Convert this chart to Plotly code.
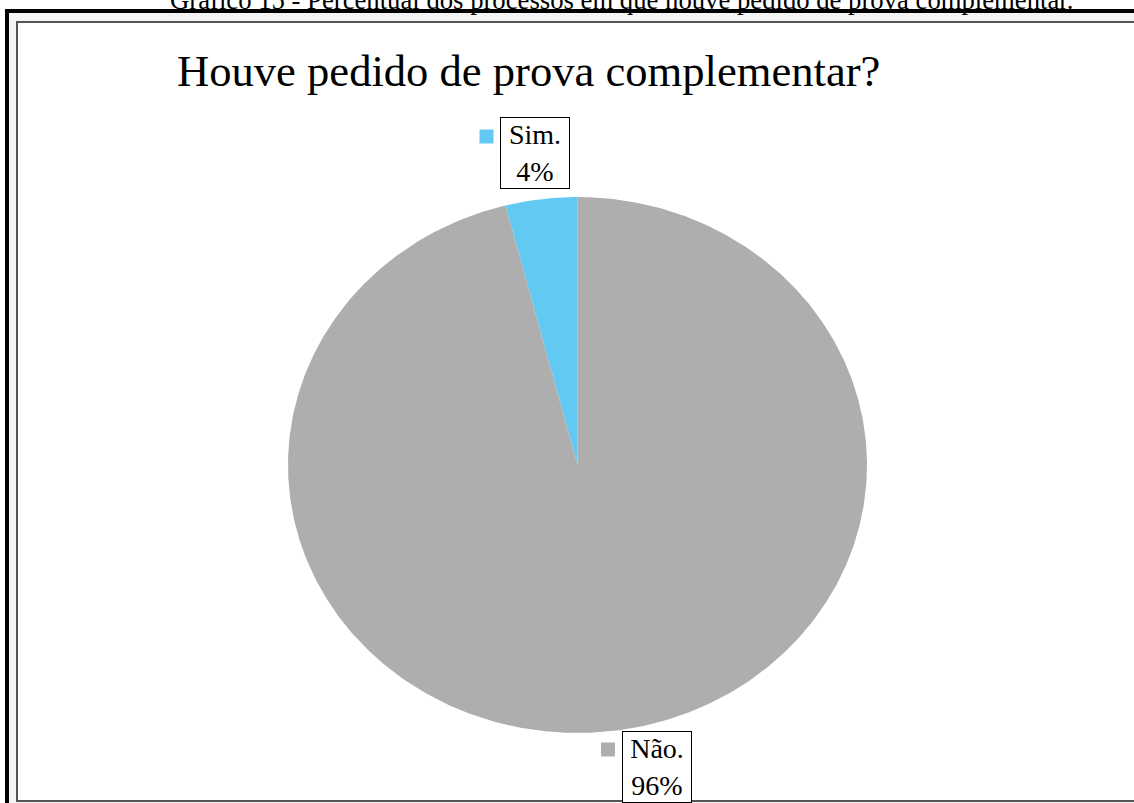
import numpy as np
import plotly.graph_objects as go

categories = ["Sim.", "Não."]
values = [4, 96]
colors = ["#62CAF2", "#AEAEAE"]
title_text = "Houve pedido de prova complementar?"
caption_text = "Gráfico 15 - Percentual dos processos em que houve pedido de prova complementar."

W, H = 1134, 803
cx, cy, rx, ry = 577.5, 465.0, 289.5, 268.0
SERIF = "Liberation Serif, Times New Roman, serif"

fig = go.Figure()

# frame (drawn below data)
shapes = [
    dict(type="rect", xref="x", yref="y", x0=7, y0=11, x1=W + 20, y1=H + 20,
         line=dict(color="black", width=4), fillcolor="#f4f4f4", layer="below"),
    dict(type="rect", xref="x", yref="y", x0=17, y0=22, x1=W + 10, y1=801,
         line=dict(color="#555555", width=2), fillcolor="white", layer="below"),
]

# pie slices as filled ellipse sectors, counterclockwise from 12 o'clock
total = sum(values)
start = 90.0
for cat, v, col in zip(categories, values, colors):
    sweep = 360.0 * v / total
    th = np.radians(np.linspace(start, start + sweep, max(int(sweep * 2), 8)))
    xs = np.concatenate([[cx], cx + rx * np.cos(th), [cx]])
    ys = np.concatenate([[cy], cy - ry * np.sin(th), [cy]])
    fig.add_trace(go.Scatter(x=xs, y=ys, fill="toself", fillcolor=col, mode="lines",
                             line=dict(width=0, color=col), name=cat,
                             hoverinfo="text", text=f"{cat} {v}%", showlegend=False))
    start += sweep

# data labels
label_pos = [(534.5, 153), (656.5, 767)]
key_pos = [(486.5, 136.5), (608, 749.5)]
annotations = []
for cat, v, col, (lx, ly), (kx, ky) in zip(categories, values, colors, label_pos, key_pos):
    annotations.append(dict(x=lx, y=ly, xref="x", yref="y", text=f"{cat}<br>{v}%",
                            showarrow=False, font=dict(family=SERIF, size=28, color="black"),
                            bgcolor="white", bordercolor="black", borderwidth=1, borderpad=3,
                            width=62, height=64,
                            align="center", valign="middle", xanchor="center", yanchor="middle"))
    shapes.append(dict(type="rect", xref="x", yref="y", x0=kx - 7, x1=kx + 7,
                       y0=ky - 7, y1=ky + 7, line=dict(width=0), fillcolor=col))

annotations.append(dict(x=175, y=71, xref="x", yref="y", text=title_text, showarrow=False,
                        font=dict(family=SERIF, size=44.6, color="black"),
                        xanchor="left", yanchor="middle"))
annotations.append(dict(x=621 / W, y=1.0, xref="paper", yref="paper", text=caption_text,
                        showarrow=False, font=dict(family=SERIF, size=26.7, color="black"),
                        xanchor="center", yanchor="middle"))

fig.update_layout(
    width=W, height=H, margin=dict(l=0, r=0, t=0, b=0),
    paper_bgcolor="white", plot_bgcolor="white",
    xaxis=dict(range=[0, W], visible=False, fixedrange=True),
    yaxis=dict(range=[H, 0], visible=False, fixedrange=True),
    shapes=shapes, annotations=annotations, showlegend=False,
)

fig.write_html("out.html", config={"displayModeBar": False},
               post_script="document.body.style.margin='0';document.body.style.overflow='hidden';")
